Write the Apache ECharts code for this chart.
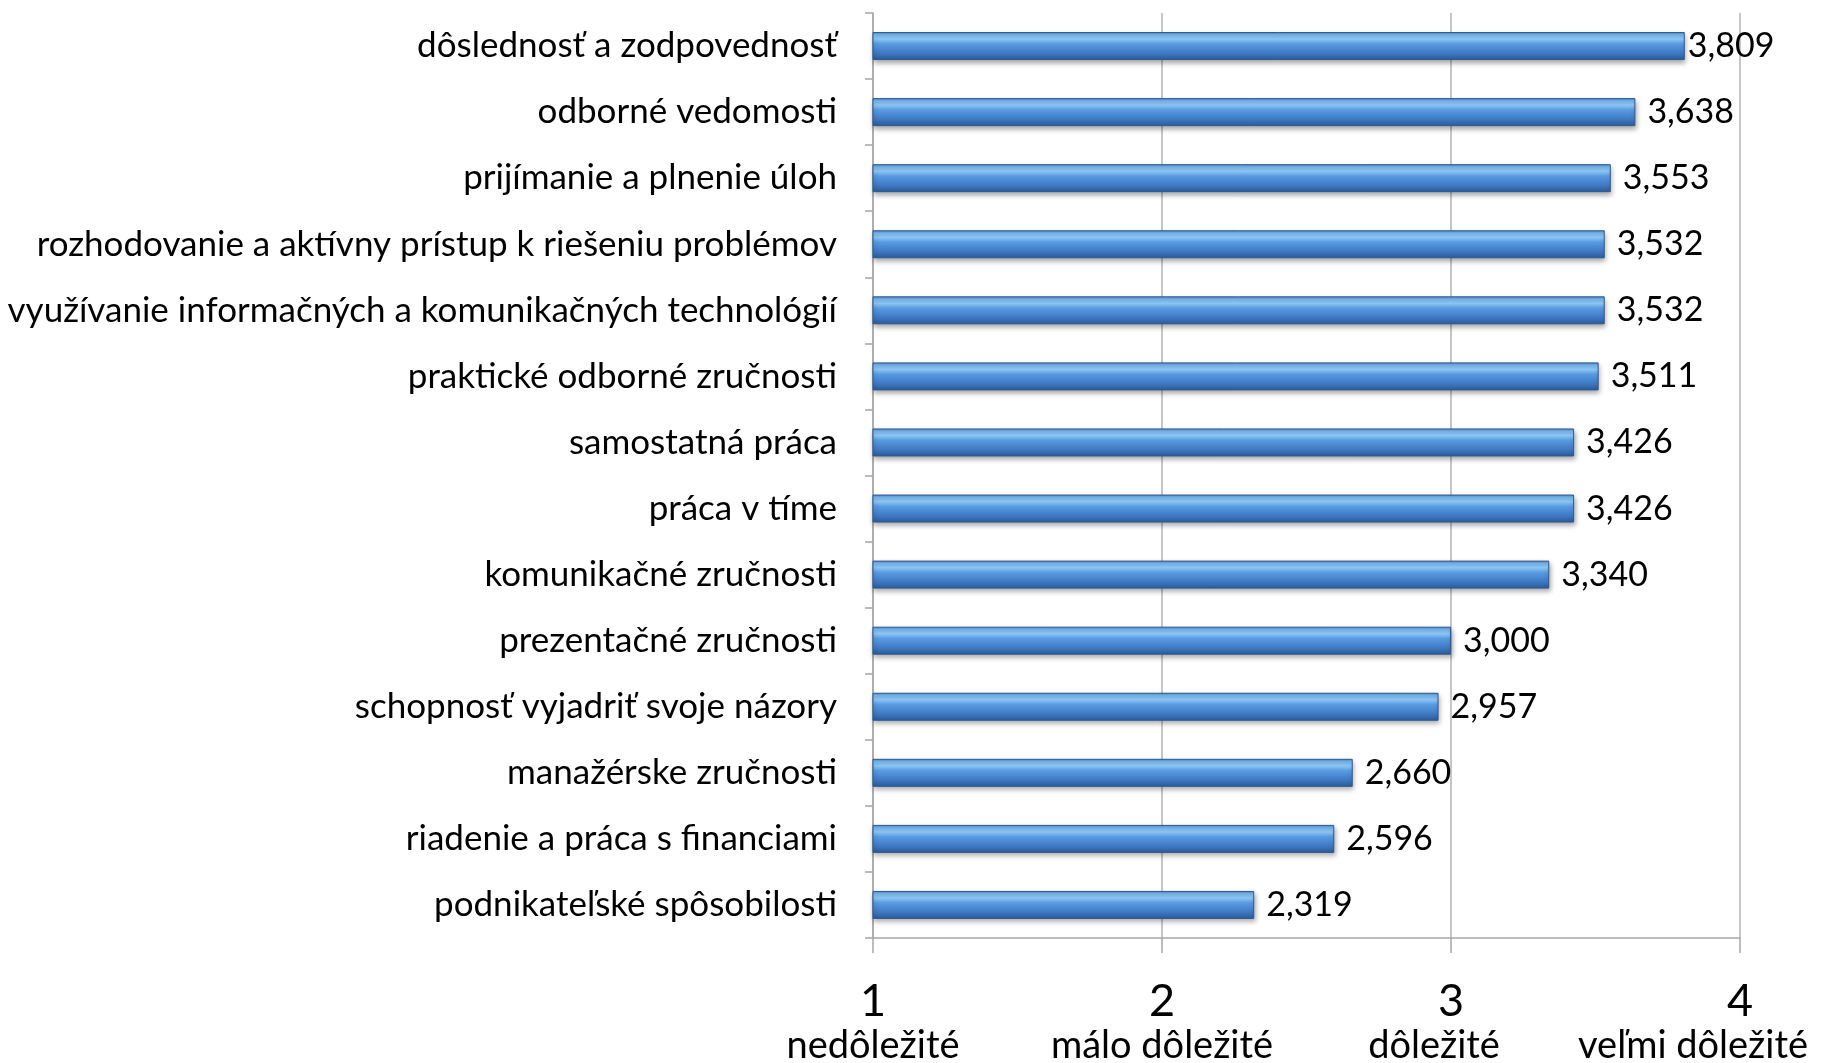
<!DOCTYPE html>
<html>
<head>
<meta charset="utf-8">
<script src="https://cdn.jsdelivr.net/npm/echarts@6/dist/echarts.min.js"></script>
<style>
html,body{margin:0;padding:0;background:#fff;}
#c{width:1823px;height:1063px;}
</style>
</head>
<body>
<div id="c"></div>
<script>
const categories = [
  'dôslednosť a zodpovednosť',
  'odborné vedomosti',
  'prijímanie a plnenie úloh',
  'rozhodovanie a aktívny prístup k riešeniu problémov',
  'využívanie informačných a komunikačných technológií',
  'praktické odborné zručnosti',
  'samostatná práca',
  'práca v tíme',
  'komunikačné zručnosti',
  'prezentačné zručnosti',
  'schopnosť vyjadriť svoje názory',
  'manažérske zručnosti',
  'riadenie a práca s financiami',
  'podnikateľské spôsobilosti'
];
const values = [3.809, 3.638, 3.553, 3.532, 3.532, 3.511, 3.426, 3.426, 3.340, 3.000, 2.957, 2.660, 2.596, 2.319];
const tickValues = [1, 2, 3, 4];
const tickTexts = ['nedôležité', 'málo dôležité', 'dôležité', 'veľmi dôležité'];

const FONT = "Lato, 'Liberation Sans Narrow', sans-serif";
const tStyle = { fontFamily: FONT, fontSize: 38, lineHeight: 44, color: '#000' };
const chart = echarts.init(document.getElementById('c'));

const barData = values.map(function (v, i) {
  return i === 0 ? { value: v, label: { distance: 3 } } : v;
});

chart.setOption({
  animation: false,
  backgroundColor: '#ffffff',
  grid: { left: 873, right: 83, top: 13, bottom: 125, containLabel: false, outerBoundsMode: 'none' },
  xAxis: {
    type: 'value', min: 1, max: 4, interval: 1,
    axisLine: { show: true, lineStyle: { color: '#a6a6a6', width: 1.5 } },
    axisTick: { show: true, length: 15, lineStyle: { color: '#a6a6a6', width: 1.5 } },
    splitLine: { show: true, lineStyle: { color: '#b3b3b3', width: 1.5 } },
    axisLabel: {
      margin: 40, color: '#000', hideOverlap: false,
      formatter: function (v) {
        const i = tickValues.indexOf(v);
        return '{n|' + v + '}\n{t' + i + '|' + (i >= 0 ? tickTexts[i] : '') + '}';
      },
      rich: {
        n: { fontFamily: FONT, fontSize: 45, lineHeight: 46, color: '#000' },
        t0: tStyle,
        t1: tStyle,
        t2: Object.assign({}, tStyle, { padding: [0, 34, 0, 0] }),
        t3: Object.assign({}, tStyle, { padding: [0, 94, 0, 0] })
      }
    }
  },
  yAxis: {
    type: 'category', data: categories, inverse: true,
    axisLine: { show: true, lineStyle: { color: '#a6a6a6', width: 1.5 } },
    axisTick: { show: true, length: 8, lineStyle: { color: '#a6a6a6', width: 1.5 } },
    axisLabel: { margin: 36, color: '#000', fontFamily: FONT, fontSize: 35 }
  },
  series: [{
    type: 'bar',
    data: barData,
    barWidth: 28,
    itemStyle: {
      color: new echarts.graphic.LinearGradient(0, 0, 0, 1, [
        { offset: 0, color: '#4a82c8' },
        { offset: 0.1, color: '#7ab8f0' },
        { offset: 0.25, color: '#8fcaf8' },
        { offset: 0.42, color: '#5a9be2' },
        { offset: 0.75, color: '#3f7ac4' },
        { offset: 1, color: '#2c5a96' }
      ]),
      borderColor: '#2d5a92', borderWidth: 1,
      shadowBlur: 5, shadowColor: 'rgba(0,0,0,0.35)', shadowOffsetY: 3, shadowOffsetX: 1
    },
    label: {
      show: true, position: 'right', distance: 12, color: '#000',
      fontFamily: FONT, fontSize: 34,
      formatter: function (p) { return p.value.toFixed(3).replace('.', ','); }
    }
  }]
});
</script>
</body>
</html>
